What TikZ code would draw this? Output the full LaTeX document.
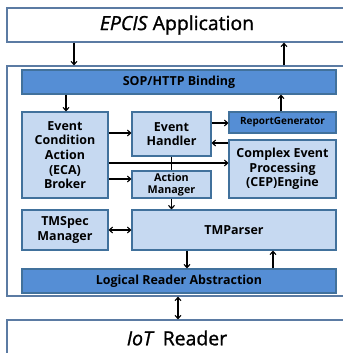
\documentclass[tikz,border=0pt]{standalone}
\usepackage{fontspec}
\setmainfont{Open Sans}
\newfontfamily\titlefont[FakeBold=1.2]{Open Sans}
\usetikzlibrary{arrows.meta}
\definecolor{darkfill}{HTML}{558ED5}
\definecolor{lightfill}{HTML}{C6D9F1}
\definecolor{bordc}{HTML}{41719C}
\definecolor{outerc}{HTML}{5B7BA3}
\begin{document}
\begin{tikzpicture}[x=1bp,y=-1bp,
  box/.style={draw=bordc, line width=1.2bp, inner sep=0pt, align=center,
    font=\bfseries\fontsize{12.5}{14.7}\selectfont},
  darkbox/.style={box, fill=darkfill},
  lightbox/.style={box, fill=lightfill},
  smalltext/.style={font=\bfseries\fontsize{10}{13.5}\selectfont},
  amtext/.style={font=\bfseries\fontsize{10.8}{12.2}\selectfont},
  outerbox/.style={draw=outerc, line width=1.3bp, fill=white, inner sep=0pt},
  titletext/.style={font=\titlefont\fontsize{19.5}{22}\selectfont},
  arr/.style={-{Straight Barb[length=3.2bp,width=6bp]}, line width=1.1bp},
  darr/.style={{Straight Barb[length=3.2bp,width=6bp]}-{Straight Barb[length=3.2bp,width=6bp]}, line width=1.1bp},
  plain/.style={line width=1.1bp}]
\useasboundingbox (0,0) rectangle (343,353);
% outer boxes
\node[outerbox, titletext, minimum width=340bp, minimum height=34bp] (epcis) at (177,25) {\textit{EPCIS} Application};
\node[outerbox, minimum width=340bp, minimum height=230bp] (mw) at (177,181) {};
\node[outerbox, titletext, minimum width=340bp, minimum height=36bp] (iot) at (177,338) {\textit{IoT}\, Reader};
% inner boxes
\node[darkbox, minimum width=314bp, minimum height=24bp] (sop) at (179,82) {SOP/HTTP Binding};
\node[lightbox, minimum width=86bp, minimum height=86bp] (eca) at (65,155) {Event\\Condition\\Action\\(ECA)\\Broker};
\node[lightbox, minimum width=79bp, minimum height=44bp] (eh) at (171.5,134) {Event\\Handler};
\node[darkbox, smalltext, minimum width=107bp, minimum height=21bp] (rg) at (282.5,122.5) {ReportGenerator};
\node[lightbox, minimum width=107bp, minimum height=58bp] (cep) at (282.5,169) {Complex Event\\Processing\\(CEP)Engine};
\node[lightbox, amtext, minimum width=79bp, minimum height=27bp] (am) at (171.5,184.5) {Action\\Manager};
\node[lightbox, minimum width=86bp, minimum height=40bp] (tms) at (65,230) {TMSpec\\Manager};
\node[lightbox, minimum width=204bp, minimum height=40bp] (tmp) at (234,230) {TMParser};
\node[darkbox, minimum width=314bp, minimum height=24bp] (lra) at (179,281) {Logical Reader Abstraction};
% connectors
\draw[arr] (epcis.south -| 74,0) -- (mw.north -| 74,0);
\draw[arr] (mw.north -| 284,0) -- (epcis.south -| 284,0);
\draw[arr] (sop.south -| 66,0) -- (eca.north -| 66,0);
\draw[arr] (rg.north -| 281,0) -- (sop.south -| 281,0);
\draw[arr] (eca.east |- 0,133) -- (eh.west |- 0,133);
\draw[arr] (eh.east |- 0,123) -- (rg.west |- 0,123);
\draw[arr] (cep.west |- 0,143) -- (eh.east |- 0,143);
\draw[plain] (eh.south) -- (am.north);
\draw[arr] (eca.east |- 0,163) -- (cep.west |- 0,163);
\draw[arr] (eca.east |- 0,179) -- (am.west |- 0,179);
\draw[arr] (am.south) -- (am.south |- tmp.north);
\draw[darr] (tms.east) -- (tmp.west);
\draw[arr] (tmp.south -| 187,0) -- (lra.north -| 187,0);
\draw[arr] (lra.north -| 273,0) -- (tmp.south -| 273,0);
\draw[darr] (mw.south -| 178,0) -- (iot.north -| 178,0);
\end{tikzpicture}
\end{document}
